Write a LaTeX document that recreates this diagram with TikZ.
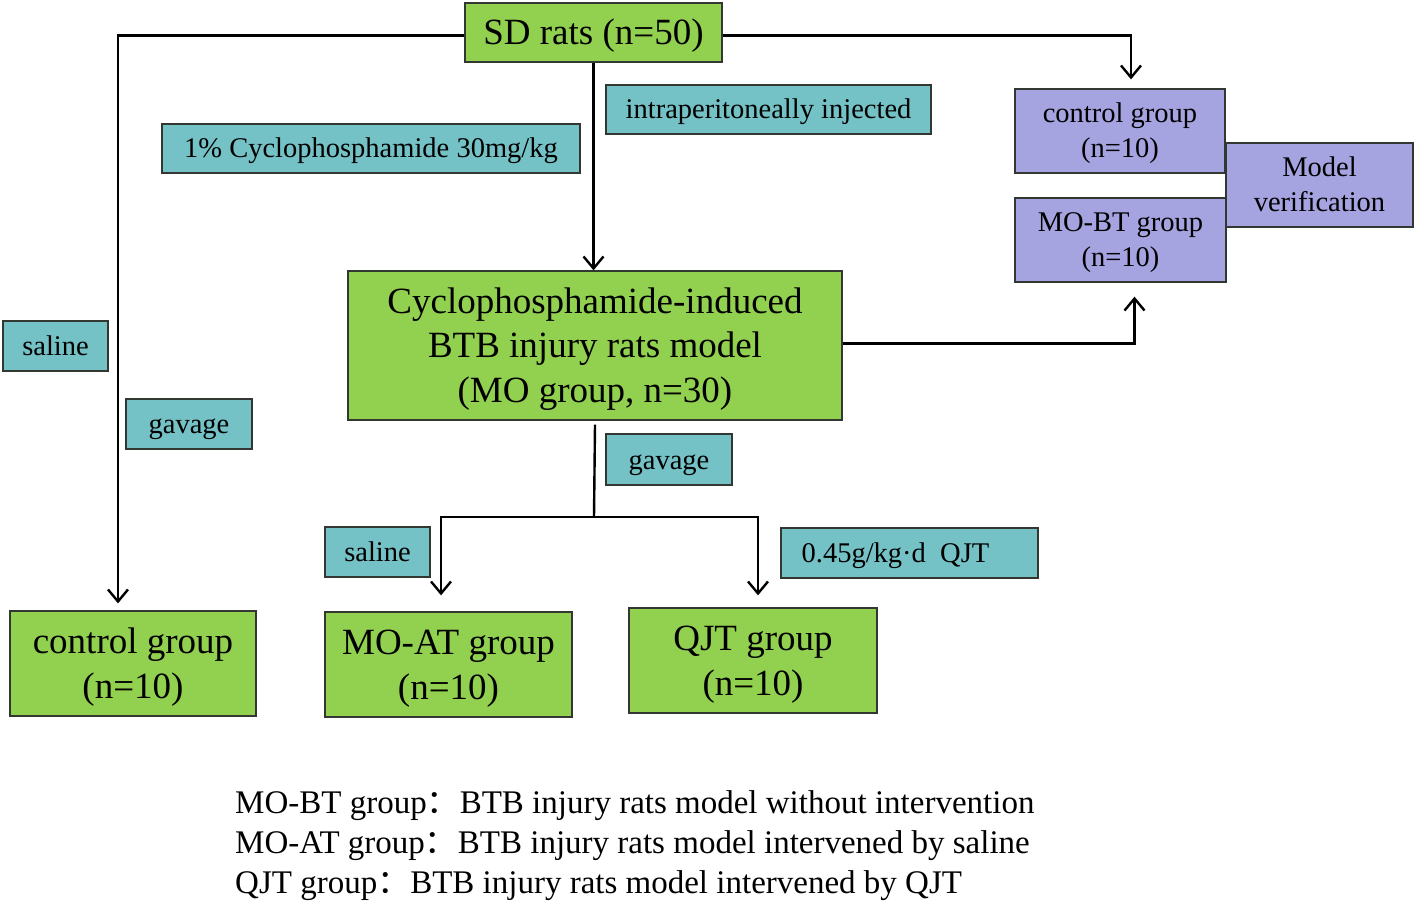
\documentclass[tikz,border=0pt]{standalone}
\usepackage{fontspec}
\setmainfont{Liberation Serif}
\newfontfamily\cjk{Noto Sans CJK SC}
\usetikzlibrary{arrows.meta}
\definecolor{mygreen}{RGB}{146,208,80}
\definecolor{myteal}{RGB}{116,193,198}
\definecolor{mypurple}{RGB}{165,163,224}
\definecolor{bordercol}{RGB}{50,55,50}
% text block, lowered inside its box by half of the extra height
\newcommand\bx[2][6pt]{\raisebox{0pt}[\dimexpr\height+#1\relax][\depth]{\begin{tabular}{@{}c@{}}#2\end{tabular}}}
\tikzset{
  box/.style={draw=bordercol, line width=1.3pt, inner sep=0pt, text=black},
  gbox/.style={box, fill=mygreen, font=\fontsize{37}{45}\selectfont},
  tbox/.style={box, fill=myteal, font=\fontsize{28.5}{35}\selectfont},
  pbox/.style={box, fill=mypurple, font=\fontsize{28.5}{35}\selectfont},
  legend/.style={inner sep=0pt, anchor=base west, font=\fontsize{33}{40}\selectfont},
  conn/.style={line width=2.4pt, black},
  arr/.style={conn, -{Straight Barb[length=12pt,width=20pt]}}
}
\begin{document}
\begin{tikzpicture}[x=1pt,y=-1pt]
\useasboundingbox (0,0) rectangle (1416,901);
% main boxes
\node[gbox, minimum width=257pt, minimum height=59pt] (sd) at (593.5,32.5) {\bx[7pt]{SD rats (n=50)}};
\node[gbox, minimum width=494pt, minimum height=149pt] (mo) at (595,345.5) {\bx[7pt]{Cyclophosphamide-induced\\BTB injury rats model\\(MO group, n=30)}};
\node[gbox, minimum width=246pt, minimum height=105pt] (ctrl) at (133,663.5) {\bx{control group\\(n=10)}};
\node[gbox, minimum width=247pt, minimum height=105pt] (moat) at (448.5,664.5) {\bx{MO-AT group\\(n=10)}};
\node[gbox, minimum width=248pt, minimum height=105pt] (qjt) at (753,660.5) {\bx{QJT group\\(n=10)}};
% purple
\node[pbox, minimum width=210pt, minimum height=84pt] (pc) at (1120,131) {\bx[5pt]{control group\\(n=10)}};
\node[pbox, minimum width=211pt, minimum height=84pt] (pb) at (1120.5,240) {\bx[5pt]{MO-BT group\\(n=10)}};
\node[pbox, minimum width=187pt, minimum height=84pt] (mv) at (1319.5,185) {\bx[5pt]{Model\\verification}};
% teal labels
\node[tbox, minimum width=325pt, minimum height=49pt] (ip) at (768.5,109.5) {\bx[5pt]{intraperitoneally injected}};
\node[tbox, minimum width=418pt, minimum height=49pt] (cy) at (371,148.5) {\bx[5pt]{1\% Cyclophosphamide 30mg/kg}};
\node[tbox, minimum width=105pt, minimum height=50pt] (sal1) at (55.5,346) {\bx[5pt]{saline}};
\node[tbox, minimum width=126pt, minimum height=50pt] (gav1) at (189,424) {\bx[5pt]{gavage}};
\node[tbox, minimum width=126pt, minimum height=51pt] (gav2) at (669,459.5) {\bx[5pt]{gavage}};
\node[tbox, minimum width=105pt, minimum height=50pt] (sal2) at (377.5,552) {\bx[5pt]{saline}};
\node[tbox, minimum width=257pt, minimum height=50pt] (dose) at (909.5,553) {\bx[5pt]{0.45g/kg·d\ \ QJT\rule{28pt}{0pt}}};
% connectors
\draw[arr, shorten >=7pt] ([yshift=-3pt]sd.west) -| ([xshift=-15pt]ctrl.north);
\draw[arr] (sd.south) -- (sd.south |- mo.north);
\draw[arr, shorten >=9pt] ([yshift=-3pt]sd.east) -| ([xshift=11pt]pc.north);
\draw[arr, shorten >=14pt] ([yshift=2pt]mo.east) -| ([xshift=14pt]pb.south);
\coordinate (split) at (594,517);
\draw[conn] ([yshift=-4pt]mo.south) -- (split);
\draw[arr, shorten >=16pt] ([xshift=1.2pt]split) -| ([xshift=-7.5pt]moat.north);
\draw[arr, shorten >=12pt] ([xshift=-1.2pt]split) -| ([xshift=5pt]qjt.north);
% legend
\node[legend] (l1) at (235,813) {MO-BT group{\cjk ：}BTB injury rats model without intervention};
\node[legend] (l2) at (235,853) {MO-AT group{\cjk ：}BTB injury rats model intervened by saline};
\node[legend] (l3) at (235,893) {QJT group{\cjk ：}BTB injury rats model intervened by QJT};
\end{tikzpicture}
\end{document}
